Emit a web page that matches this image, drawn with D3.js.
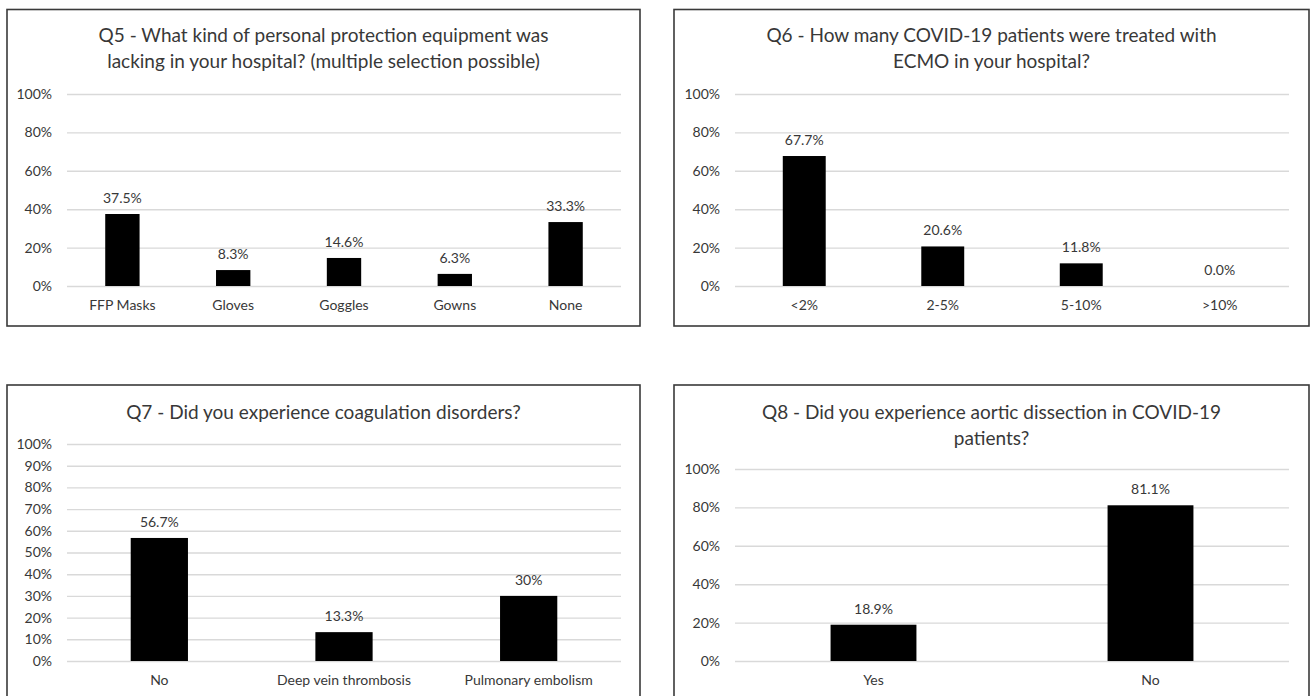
<!DOCTYPE html>
<html>
<head>
<meta charset="utf-8">
<script src="https://cdn.jsdelivr.net/npm/d3@7"></script>
<style>
  html, body { margin: 0; padding: 0; background: #fff; }
  svg { display: block; }
  text { font-family: Lato, "Open Sans", sans-serif; fill: #383838; }
</style>
</head>
<body>
<svg id="chart" width="1311" height="696"></svg>
<script>
// Survey answers, in percent of respondents
const q5Title = ["Q5 - What kind of personal protection equipment was",
                 "lacking in your hospital? (multiple selection possible)"];
const q5Categories = ["FFP Masks", "Gloves", "Goggles", "Gowns", "None"];
const q5Values = [37.5, 8.3, 14.6, 6.3, 33.3];
const q5Ticks = [0, 20, 40, 60, 80, 100];

const q6Title = ["Q6 - How many COVID-19 patients were treated with",
                 "ECMO in your hospital?"];
const q6Categories = ["<2%", "2-5%", "5-10%", ">10%"];
const q6Values = [67.7, 20.6, 11.8, 0.0];
const q6Ticks = [0, 20, 40, 60, 80, 100];

const q7Title = ["Q7 - Did you experience coagulation disorders?"];
const q7Categories = ["No", "Deep vein thrombosis", "Pulmonary embolism"];
const q7Values = [56.7, 13.3, 30];
const q7Ticks = [0, 10, 20, 30, 40, 50, 60, 70, 80, 90, 100];

const q8Title = ["Q8 - Did you experience aortic dissection in COVID-19",
                 "patients?"];
const q8Categories = ["Yes", "No"];
const q8Values = [18.9, 81.1];
const q8Ticks = [0, 20, 40, 60, 80, 100];

const fixed1 = d3.format(".1f");
const general = d3.format(".3~g");

const TEXT = "#383838";
const LABEL_SIZE = 14;
const TITLE_SIZE = 19;

// Panel layout: frame box, plot area and title line positions
const panels = [
  { title: q5Title, cats: q5Categories, vals: q5Values, ticks: q5Ticks, fmt: fixed1,
    box: [7, 9.5, 633, 316.5], plot: [67, 621, 94, 286], titleY: [35, 61] },
  { title: q6Title, cats: q6Categories, vals: q6Values, ticks: q6Ticks, fmt: fixed1,
    box: [674, 9.5, 635, 316.5], plot: [735, 1289, 94, 286], titleY: [35, 61] },
  { title: q7Title, cats: q7Categories, vals: q7Values, ticks: q7Ticks, fmt: general,
    box: [7, 385, 633, 330], plot: [67, 621, 444, 661], titleY: [412] },
  { title: q8Title, cats: q8Categories, vals: q8Values, ticks: q8Ticks, fmt: fixed1,
    box: [674, 385, 635, 330], plot: [735, 1289, 469, 661], titleY: [412, 438] }
];

const svg = d3.select("#chart");

panels.forEach(p => {
  const [x0, x1, yTop, yBottom] = p.plot;
  const g = svg.append("g");

  const x = d3.scaleBand().domain(p.cats).range([x0, x1])
    .paddingInner(0.69).paddingOuter(0.345);
  const y = d3.scaleLinear().domain([0, 100]).range([yBottom, yTop]);

  // gridlines
  g.append("g")
    .attr("transform", `translate(${x0},0)`)
    .call(d3.axisLeft(y).tickValues(p.ticks).tickSize(-(x1 - x0)).tickFormat(""))
    .call(a => a.select(".domain").remove())
    .call(a => a.selectAll("line").attr("stroke", "#d9d9d9").attr("stroke-width", 1.4));

  // y tick labels
  g.append("g")
    .attr("transform", `translate(${x0},0)`)
    .call(d3.axisLeft(y).tickValues(p.ticks).tickSize(0).tickPadding(15)
      .tickFormat(d => d + "%"))
    .call(a => a.select(".domain").remove())
    .call(a => a.selectAll("text").attr("font-size", LABEL_SIZE).attr("fill", TEXT)
      .style("font-family", "Lato, sans-serif"));

  // category labels
  g.append("g")
    .attr("transform", `translate(0,${yBottom})`)
    .call(d3.axisBottom(x).tickSize(0).tickPadding(14))
    .call(a => a.select(".domain").remove())
    .call(a => a.selectAll("text").attr("font-size", LABEL_SIZE).attr("fill", TEXT)
      .style("font-family", "Lato, sans-serif"));

  // bars
  g.selectAll("rect.bar").data(p.vals).join("rect")
    .attr("class", "bar")
    .attr("x", (d, i) => x(p.cats[i]))
    .attr("width", x.bandwidth())
    .attr("y", d => y(d))
    .attr("height", d => yBottom - y(d))
    .attr("fill", "#000");

  // value labels
  g.selectAll("text.val").data(p.vals).join("text")
    .attr("class", "val")
    .attr("x", (d, i) => x(p.cats[i]) + x.bandwidth() / 2)
    .attr("y", d => y(d) - 11)
    .attr("text-anchor", "middle")
    .attr("font-size", LABEL_SIZE)
    .text(d => p.fmt(d) + "%");

  // title, centred on the frame
  g.selectAll("text.title").data(p.title).join("text")
    .attr("class", "title")
    .attr("x", p.box[0] + p.box[2] / 2)
    .attr("y", (d, i) => p.titleY[i])
    .attr("dy", "0.35em")
    .attr("text-anchor", "middle")
    .attr("font-size", TITLE_SIZE)
    .text(d => d);

  // frame
  svg.append("rect")
    .attr("x", p.box[0]).attr("y", p.box[1])
    .attr("width", p.box[2]).attr("height", p.box[3])
    .attr("fill", "none").attr("stroke", "#3a3a3a").attr("stroke-width", 1.6);
});
</script>
</body>
</html>
